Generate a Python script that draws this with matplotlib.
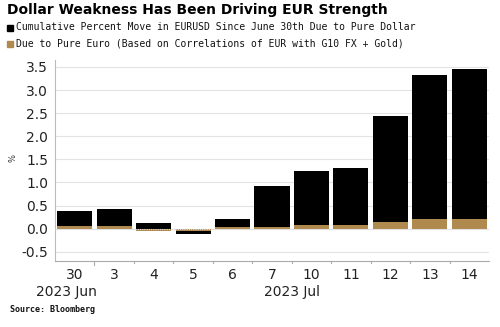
import matplotlib
matplotlib.use("Agg")
import matplotlib.pyplot as plt
from matplotlib.transforms import blended_transform_factory
import matplotlib.patches as mpatches
import numpy as np

days = ["30", "3", "4", "5", "6", "7", "10", "11", "12", "13", "14"]
pure_dollar = [0.34, 0.37, 0.12, -0.06, 0.16, 0.89, 1.17, 1.24, 2.28, 3.12, 3.24]
pure_euro = [0.05, 0.05, -0.06, -0.06, 0.04, 0.04, 0.07, 0.07, 0.15, 0.21, 0.21]
yticks = [-0.5, 0.0, 0.5, 1.0, 1.5, 2.0, 2.5, 3.0, 3.5]

title = "Dollar Weakness Has Been Driving EUR Strength"
leg1 = "Cumulative Percent Move in EURUSD Since June 30th Due to Pure Dollar"
leg2 = "Due to Pure Euro (Based on Correlations of EUR with G10 FX + Gold)"

BROWN = "#b0894f"
W, H = 500, 327
fig = plt.figure(figsize=(5, 3.27), dpi=100)
ax = fig.add_axes([55 / W, 1 - 261 / H, (489 - 55) / W, (261 - 60) / H])

x = np.arange(len(days))
d = np.array(pure_dollar)
e = np.array(pure_euro)
dollar_base = np.where(np.sign(d) == np.sign(e), e, 0.0)
ax.bar(x, e, width=0.89, color=BROWN, zorder=3)
ax.bar(x, d, bottom=dollar_base, width=0.89, color="black", zorder=3)

ax.set_xlim(-0.5, len(days) - 0.5)
ax.set_ylim(-0.7, 3.65)
ax.set_yticks(yticks)
ax.set_yticklabels([f"{v:.1f}" for v in yticks], fontsize=10, color="#222222")
ax.tick_params(axis="y", length=0, pad=5)
ax.grid(axis="y", color="#e3e3e3", linewidth=0.8, zorder=0)
ax.axhline(0, color="#e0e0e0", linewidth=0.8, linestyle=(0, (1, 1)), zorder=4)

ax.set_xticks(x)
ax.set_xticklabels(days, fontsize=10, color="#222222")
ax.tick_params(axis="x", length=0, pad=5)
trans = blended_transform_factory(ax.transData, ax.transAxes)
for b in np.arange(0.5, len(days) - 0.5, 1.0):
    ln = 0.022 if b == 0.5 else 0.01
    ax.plot([b, b], [0, -ln], transform=trans, color="#aaaaaa", linewidth=0.8, clip_on=False)

for s in ["top", "right"]:
    ax.spines[s].set_visible(False)
ax.spines["left"].set_color("#bbbbbb")
ax.spines["bottom"].set_color("#aaaaaa")

ax.text(-0.2, -0.152, "2023 Jun", transform=trans, ha="center", va="center", fontsize=10, color="#222222")
ax.text(5.5, -0.152, "2023 Jul", transform=trans, ha="center", va="center", fontsize=10, color="#222222")

fig.text(13 / W, 1 - 158 / H, "%", rotation=90, ha="center", va="center", fontsize=6, color="#333333")

fig.text(7 / W, 1 - 10 / H, title, fontsize=10, fontweight="bold", ha="left", va="center", color="black")
fig.patches.append(mpatches.Rectangle((7 / W, 1 - 31 / H), 6 / W, 6 / H, transform=fig.transFigure, color="black"))
fig.text(16 / W, 1 - 27.5 / H, leg1, fontsize=7, family="DejaVu Sans Mono", ha="left", va="center", color="#111111")
fig.patches.append(mpatches.Rectangle((7 / W, 1 - 47 / H), 6 / W, 6 / H, transform=fig.transFigure, color=BROWN))
fig.text(16 / W, 1 - 43.5 / H, leg2, fontsize=7, family="DejaVu Sans Mono", ha="left", va="center", color="#111111")

fig.text(10 / W, 1 - 310 / H, "Source: Bloomberg", fontsize=6, family="DejaVu Sans Mono", fontweight="bold", ha="left", va="center", color="#111111")

fig.savefig("out.png", dpi=100, facecolor="white")
